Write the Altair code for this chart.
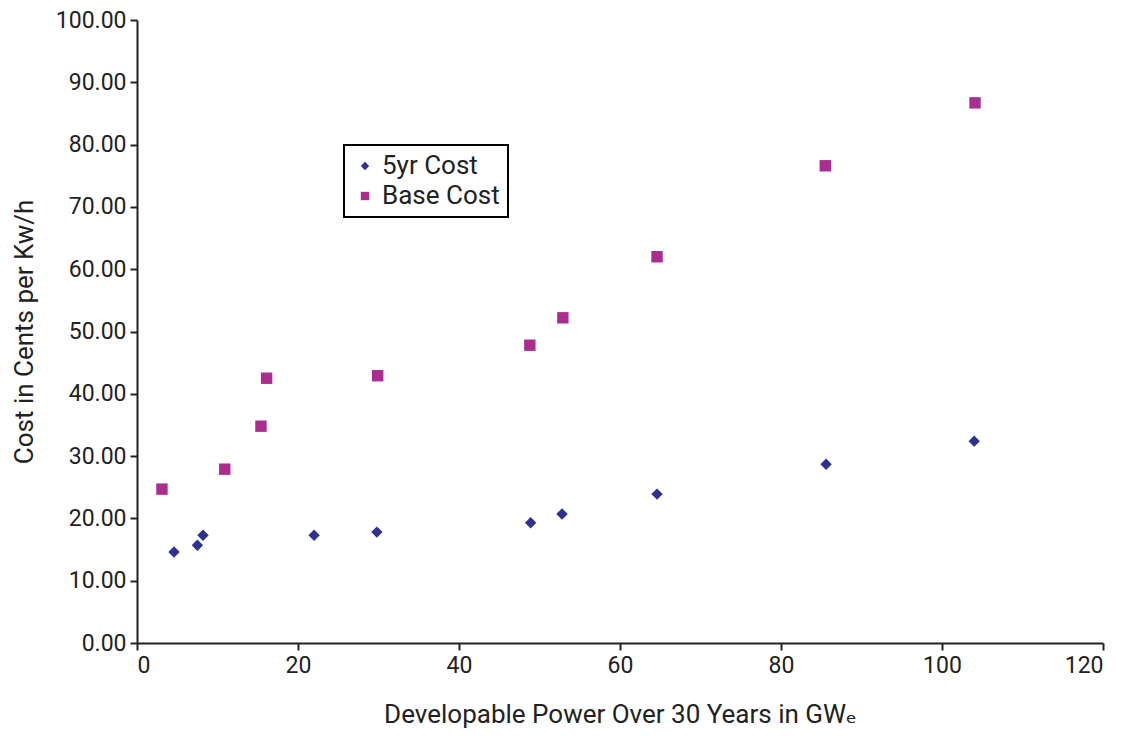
import altair as alt
import pandas as pd

x_5yr = [4.6, 7.5, 8.2, 22.0, 29.8, 48.9, 52.8, 64.6, 85.6, 104.0]
y_5yr = [14.6, 15.7, 17.3, 17.3, 17.8, 19.3, 20.7, 23.9, 28.7, 32.4]
x_base = [3.1, 10.9, 15.4, 16.1, 29.9, 48.8, 52.9, 64.6, 85.5, 104.1]
y_base = [24.7, 27.9, 34.8, 42.5, 42.9, 47.8, 52.2, 62.0, 76.6, 86.7]
series = ["5yr Cost", "Base Cost"]
colors = ["#2E3192", "#AA2D8F"]
shapes = ["diamond", "square"]

df = pd.concat([
    pd.DataFrame({"x": x_5yr, "y": y_5yr, "s": series[0]}),
    pd.DataFrame({"x": x_base, "y": y_base, "s": series[1]}),
])

font = "Roboto, 'DejaVu Sans'"

chart = alt.Chart(df).mark_point(filled=True, opacity=1, size=130).encode(
    x=alt.X("x:Q", scale=alt.Scale(domain=[0, 120], nice=False),
            axis=alt.Axis(values=list(range(0, 121, 20)), title="Developable Power Over 30 Years in GWₑ",
                          grid=False, titlePadding=24)),
    y=alt.Y("y:Q", scale=alt.Scale(domain=[0, 100], nice=False),
            axis=alt.Axis(values=list(range(0, 101, 10)), format=".2f", title="Cost in Cents per Kw/h",
                          grid=False, titlePadding=18)),
    color=alt.Color("s:N", scale=alt.Scale(domain=series, range=colors),
                    legend=alt.Legend(title=None, orient="none", legendX=207, legendY=125,
                                      strokeColor="black", padding=8, labelFontSize=26,
                                      labelFont=font, symbolSize=70, rowPadding=4,
                                      labelOffset=4,
                                      labelColor="#222222")),
    shape=alt.Shape("s:N", scale=alt.Scale(domain=series, range=shapes), legend=None),
).properties(
    width=966, height=623,
    autosize=alt.AutoSizeParams(type="none"),
    padding={"left": 129, "top": 12, "right": 20, "bottom": 94},
).configure_view(stroke=None).configure_axis(
    domainColor="#222222", domainWidth=2, tickColor="#222222", tickWidth=2, tickSize=7,
    labelFont=font, labelFontSize=23, labelColor="#222222", labelPadding=4,
    titleFont=font, titleFontSize=26, titleFontWeight="normal", titleColor="#222222",
).configure_legend(strokeWidth=2)

chart.save("out.html", embed_options={"renderer": "svg", "actions": False})
